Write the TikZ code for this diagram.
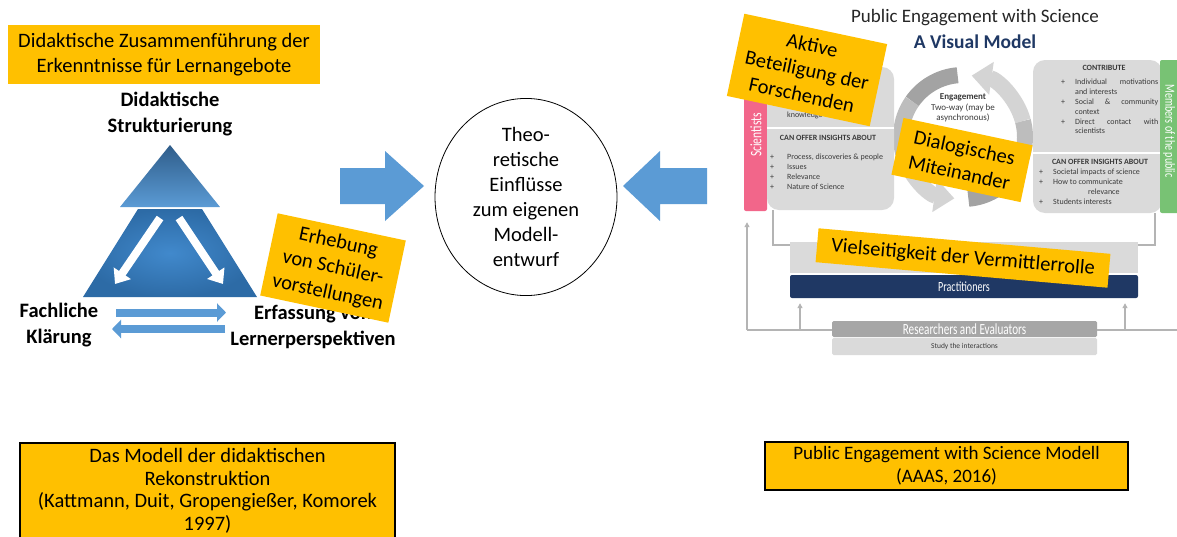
\documentclass[tikz,border=0pt]{standalone}
\usepackage{fontspec}
\setmainfont{Carlito}
\usepackage{graphicx}
\usetikzlibrary{arrows.meta,shapes.geometric,calc}
\definecolor{orng}{HTML}{FFC000}
\definecolor{blu}{HTML}{5B9BD5}
\definecolor{bludark}{HTML}{2F5D8A}
\definecolor{blumid}{HTML}{2D6BA6}
\definecolor{blulight}{HTML}{4189CC}
\definecolor{navy}{HTML}{1F3864}
\definecolor{pinkc}{HTML}{F2668A}
\definecolor{greenc}{HTML}{78C274}
\definecolor{boxg}{HTML}{DADADA}
\definecolor{lineg}{HTML}{B4B4B4}
\definecolor{resg}{HTML}{A6A6A6}
\definecolor{txtg}{HTML}{3A3A3A}
\definecolor{arcA}{HTML}{A3A3A3}
\definecolor{arcB}{HTML}{BDBDBD}
\definecolor{arcC}{HTML}{D4D4D4}
\newcommand{\fs}[2]{\fontsize{#1}{#2}\selectfont}
\newcommand{\cnd}[1]{\scalebox{0.72}[1]{#1}}
\begin{document}
\begin{tikzpicture}[x=1pt,y=-1pt,
  obox/.style={fill=orng, inner sep=0pt, align=center, font=\fs{20.5}{25.5}},
  lbl/.style={font=\bfseries\fs{20.5}{26}, align=center, inner sep=0pt},
  sm/.style={font=\fs{8}{9}, inner sep=0pt, text=txtg},
  smb/.style={font=\bfseries\fs{8}{9}, inner sep=0pt, text=txtg},
  gbox/.style={fill=boxg, rounded corners=12pt, inner sep=0pt},
  conn/.style={draw=lineg, line width=1.3pt},
  upar/.style={conn, -{Triangle[length=5pt,width=5pt]}},
  bigarrow/.style={fill=blu},
  harrow/.style={draw=blu, line width=8pt, -{Triangle[length=9pt,width=18pt]}},
  warrow/.style={draw=white, line width=8pt, -{Triangle[length=13pt,width=20pt]}},
  cyc/.style={line width=16pt}
]
\useasboundingbox (0,0) rectangle (1177,536);
\fill[white] (0,0) rectangle (1177,536);

% ---------------- left model ----------------
\node[fill=orng, minimum width=312pt, minimum height=59pt, inner sep=0pt, align=center, font=\fs{20.5}{25}] (topbox) at (164,54.5) {Didaktische Zusammenführung der\\Erkenntnisse für Lernangebote};
\node[lbl] (struk) at (170,114) {Didaktische\\Strukturierung};

\shade[top color=bludark, bottom color=blu] (170,145) -- (220,207) -- (120,207) -- cycle;
\shade[inner color=blulight, outer color=blumid] (138,209) -- (202,209) -- (257,297) -- (83,297) -- cycle;
\coordinate (wl1) at (160,218); \coordinate (wl2) at (115,284);
\coordinate (wr1) at (179,218); \coordinate (wr2) at (223,284);
\draw[warrow] (wl1) -- (wl2);
\draw[warrow] (wr1) -- (wr2);

\node[lbl] (fach) at (59,325) {Fachliche\\Klärung};
\node[lbl] (erf) at (313,327) {Erfassung von\\Lernerperspektiven};
\coordinate (ha1) at (116,312.5); \coordinate (ha2) at (226,312.5);
\coordinate (hb1) at (225,329); \coordinate (hb2) at (112,329);
\draw[harrow] (ha1) -- (ha2);
\draw[harrow] (hb1) -- (hb2);

\node[obox, rotate=-12, minimum width=131pt, minimum height=84pt] (erheb) at (333,268) {Erhebung\\von Schüler-\\vorstellungen};

% ---------------- centre ----------------
\node[draw=black, line width=0.8pt, ellipse, minimum width=182pt, minimum height=194pt, inner sep=0pt, align=center, font=\fs{20.5}{25}] (theo) at (526,197) {Theo-\\retische\\Einflüsse\\zum eigenen\\Modell-\\entwurf};
\fill[bigarrow] (340,168) -- (385,168) -- (385,151) -- (424,186) -- (385,221) -- (385,204) -- (340,204) -- cycle;
\fill[bigarrow] (707,168) -- (660,168) -- (660,151) -- (623,186) -- (660,221) -- (660,204) -- (707,204) -- cycle;

% ---------------- right model ----------------
\node[font=\fs{19}{20}, inner sep=0pt, text=black!85] (pest) at (975,18) {Public Engagement with Science};
\node[font=\bfseries\fs{19.5}{20}, inner sep=0pt, text=navy] (avm) at (975,42) {A Visual Model};

% cycle arrows
\coordinate (C) at (963,137);
\draw[cyc, arcA] ($(C)+(-95:62)$) arc[start angle=-95, end angle=-145, radius=62];
\draw[cyc, arcB] ($(C)+(-145:62)$) arc[start angle=-145, end angle=-195, radius=62];
\draw[cyc, arcC, -{Triangle[length=20pt,width=32pt]}] ($(C)+(-195:62)$) arc[start angle=-195, end angle=-262, radius=62];
\draw[cyc, arcA] ($(C)+(85:62)$) arc[start angle=85, end angle=35, radius=62];
\draw[cyc, arcB] ($(C)+(35:62)$) arc[start angle=35, end angle=-15, radius=62];
\draw[cyc, arcC, -{Triangle[length=20pt,width=32pt]}] ($(C)+(-15:62)$) arc[start angle=-15, end angle=-82, radius=62];
\node[font=\bfseries\fs{9}{10}, inner sep=0pt, text=txtg] (eng) at (963,97) {Engagement};
\node[font=\fs{9}{10.5}, inner sep=0pt, text=txtg, align=center] (eng2) at (963,113) {Two-way (may be\\asynchronous)};

% scientists side
\node[fill=pinkc, rounded corners=2pt, minimum width=23pt, minimum height=125pt, inner sep=0pt] (sci) at (755.5,148.5) {};
\node[rotate=90, text=white, font=\fs{16}{17}, inner sep=0pt] (scit) at (756,135) {\cnd{Scientists}};
\node[gbox, minimum width=127pt, minimum height=143pt] (lbox) at (830.5,138.5) {};
\draw[white, line width=1.5pt] (lbox.west |- 0,128) -- (lbox.east |- 0,128);
\node[sm, anchor=west] (know) at (787,115) {knowledge};
\node[smb] (cano1) at (828,138) {CAN OFFER INSIGHTS ABOUT};
\foreach \yy/\tt in {157/{Process, discoveries \& people},167/Issues,177/Relevance,187/{Nature of Science}}{
  \node[sm, anchor=west] at (770,\yy) {+};
  \node[sm, anchor=west] at (787,\yy) {\tt};
}

% public side
\node[gbox, minimum width=129pt, minimum height=153pt] (rbox) at (1097.5,136.5) {};
\draw[white, line width=1.5pt] (rbox.west |- 0,153) -- (rbox.east |- 0,153);
\node[fill=greenc, rounded corners=2pt, minimum width=20pt, minimum height=153pt, inner sep=0pt] (pub) at (1170,136.5) {};
\node[rotate=-90, text=white, font=\fs{14}{15}, inner sep=0pt] (pubt) at (1169,131) {\cnd{Members of the public}};
\node[smb] (contr) at (1104,68) {CONTRIBUTE};
\foreach \yy in {82,102,122}{\node[sm] at (1063,\yy) {+};}
\node[sm, anchor=west, text width=83pt] at (1075,82) {Individual\hfill motivations};
\node[sm, anchor=west] at (1075,92) {and interests};
\node[sm, anchor=west, text width=83pt] at (1075,102) {Social\hfill \&\hfill community};
\node[sm, anchor=west] at (1075,112) {context};
\node[sm, anchor=west, text width=83pt] at (1075,122) {Direct\hfill contact\hfill with};
\node[sm, anchor=west] at (1075,131) {scientists};
\node[smb] (cano2) at (1100,162) {CAN OFFER INSIGHTS ABOUT};
\foreach \yy in {172,182,202}{\node[sm] at (1041,\yy) {+};}
\node[sm, anchor=west] at (1053,172) {Societal impacts of science};
\node[sm, anchor=west] at (1053,182) {How to communicate};
\node[sm, anchor=west] at (1088,192) {relevance};
\node[sm, anchor=west] at (1053,202) {Students interests};

% practitioners
\node[fill=boxg, minimum width=348pt, minimum height=31pt, inner sep=0pt] (vbox) at (964,257.5) {};
\node[fill=navy, rounded corners=2pt, minimum width=348pt, minimum height=23pt, inner sep=0pt, text=white, font=\fs{14}{16}] (prac) at (964,286.5) {\cnd{Practitioners}};
\draw[conn] (lbox.south -| 773,0) |- (vbox.west |- 0,245);
\draw[conn] (rbox.south -| 1155,0) |- (vbox.east |- 0,245);

% researchers
\node[fill=resg, rounded corners=1.5pt, minimum width=265pt, minimum height=16pt, inner sep=0pt, text=white, font=\fs{15.5}{16}] (res) at (964.5,329) {\cnd{Researchers and Evaluators}};
\node[fill=boxg, rounded corners=1.5pt, minimum width=265pt, minimum height=17pt, inner sep=0pt, font=\fs{7.5}{8}, text=txtg] (study) at (964.5,346.5) {Study the interactions};
\coordinate (hl) at (747,330);
\coordinate (hr) at (1177,330);
\draw[conn] (hl) -- (res.west |- hl);
\draw[conn] (res.east |- hr) -- (hr);
\draw[upar] (hl) -- ($(sci.south -| hl)+(0,11)$);
\coordinate (p1) at (800,330); \coordinate (p2) at (1125,330);
\draw[upar] (p1) -- ($(prac.south -| p1)+(0,5)$);
\draw[upar] (p2) -- ($(prac.south -| p2)+(0,5)$);

% orange overlays
\node[obox, rotate=-12, minimum width=146pt, minimum height=84pt] (aktiv) at (807,70) {Aktive\\Beteiligung der\\Forschenden};
\node[obox, rotate=-12, minimum width=132pt, minimum height=58pt] (dialog) at (962,160) {Dialogisches\\Miteinander};
\node[obox, rotate=-5, minimum width=293pt, minimum height=34pt] (viel) at (963,258) {Vielseitigkeit der Vermittlerrolle};

% ---------------- bottom captions ----------------
\draw[fill=orng, line width=2pt] (20,443) rectangle (395,540);
\node[inner sep=0pt, align=center, font=\fs{20.5}{22.5}] (capl) at (207.5,491) {Das Modell der didaktischen\\Rekonstruktion\\(Kattmann, Duit, Gropengießer, Komorek\\1997)};
\node[draw=black, line width=2pt, fill=orng, minimum width=363pt, minimum height=48pt, inner sep=0pt, align=center, font=\fs{19}{23}] (capr) at (946.5,466) {Public Engagement with Science Modell\\(AAAS, 2016)};
\end{tikzpicture}
\end{document}
